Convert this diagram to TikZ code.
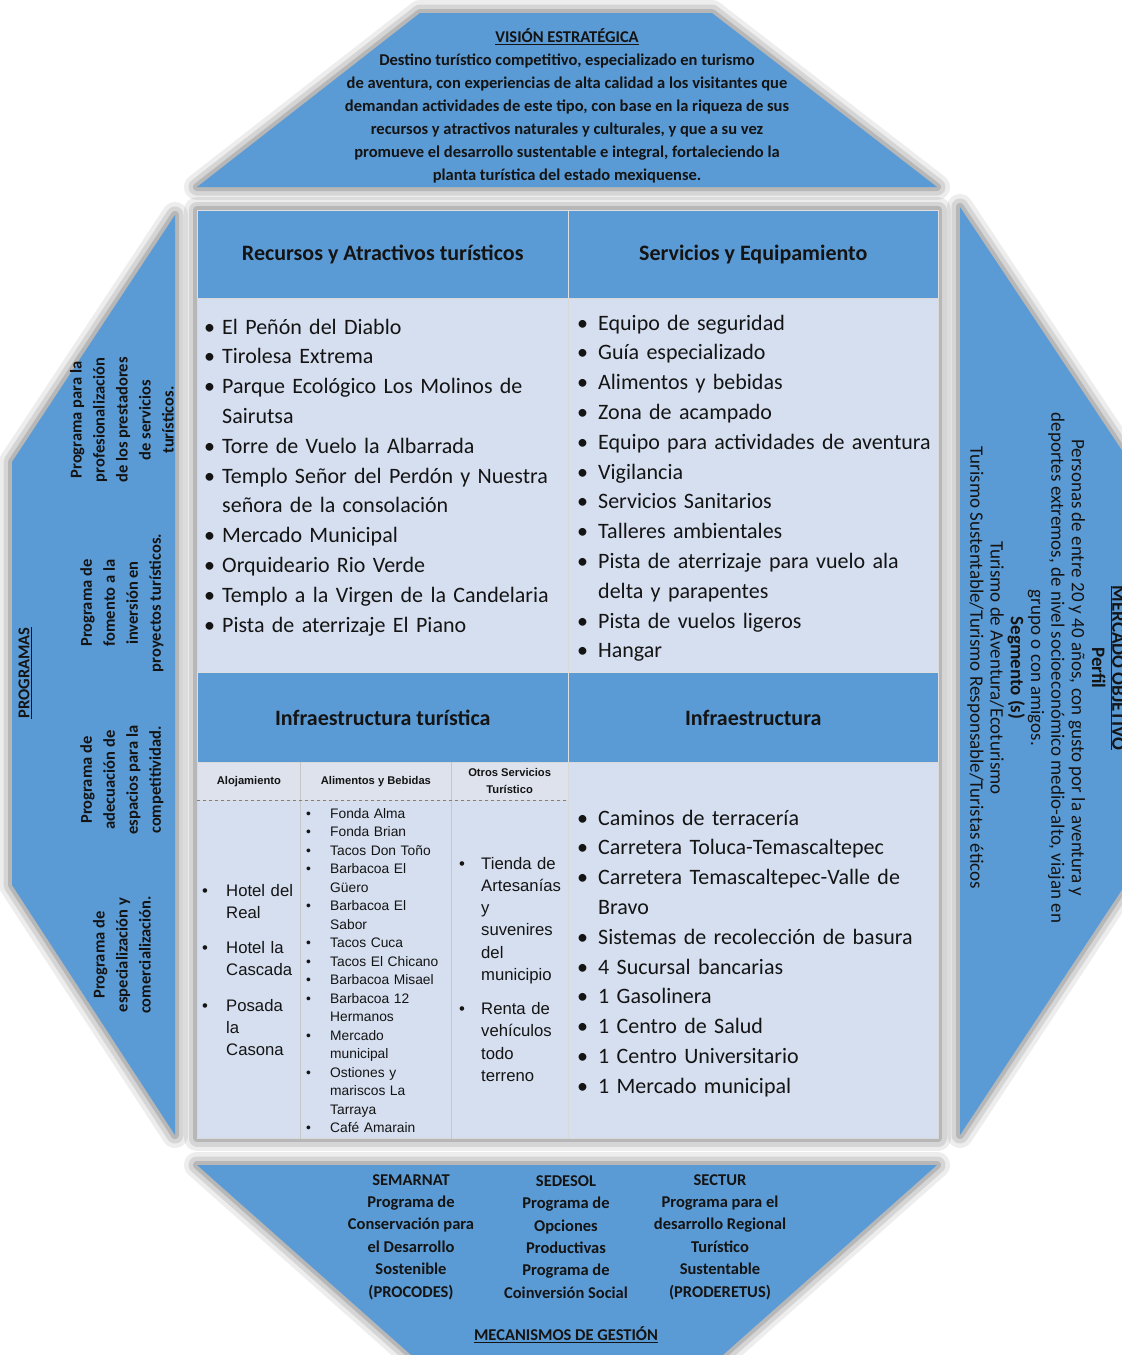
\documentclass[tikz,border=0pt]{standalone}
\usepackage{fontspec}
\setmainfont{Carlito}
\newfontfamily\arialfont{Liberation Sans}
\definecolor{azul}{RGB}{91,155,213}
\definecolor{celeste}{RGB}{214,223,239}
\definecolor{grisazul}{RGB}{221,226,236}
\definecolor{tinta}{RGB}{20,20,20}
\newcommand{\punto}[2][18pt]{\hangindent=#1\hangafter=1\makebox[#1][l]{\textbullet}#2\par}
\newcommand{\halo}[1]{\foreach \w/\o in {26/.07,17/.1,8/.14}{\draw[line width=\w pt, opacity=\o, line join=round] #1;}}
\begin{document}
\begin{tikzpicture}[x=1pt, y=-1pt, text=tinta,
  cabecera/.style={fill=azul, draw=white!75!gray, line width=1pt, anchor=north west, inner sep=0pt,
    minimum width=370.5pt, minimum height=88pt, font=\fontsize{22}{26}\selectfont\bfseries},
  celda/.style={fill=celeste, draw=white!70!gray, line width=1pt, anchor=north west, inner sep=0pt,
    minimum width=370.5pt},
  subcab/.style={fill=grisazul, draw=white!70!gray, line width=.8pt, anchor=north west, inner sep=0pt,
    minimum height=38pt, align=center, font=\arialfont\fontsize{11.2}{17}\selectfont\bfseries},
  lista/.style={anchor=base west, inner sep=0pt, align=left, font=\fontsize{22}{29.8}\selectfont},
  sublista/.style={anchor=base west, inner sep=0pt, align=left, font=\arialfont\fontsize{16.7}{22.3}\selectfont},
  franja/.style={align=center, inner sep=0pt, font=\fontsize{16.5}{23}\selectfont\bfseries}]

\useasboundingbox (0,0) rectangle (1122,1355);

% sombras y paneles del octagono
\halo{(197,187) -- (420,13) -- (712,13) -- (937,187) -- cycle}
\halo{(175,215) -- (12,462) -- (12,885) -- (175,1135) -- cycle}
\halo{(960,207) -- (1135,470) -- (1135,870) -- (960,1135) -- cycle}
\halo{(197,1165) -- (937,1165) -- (715,1362) -- (419,1362) -- cycle}
\halo{(197,210) rectangle (938,1138)}
\fill[azul] (197,187) -- (420,13) -- (712,13) -- (937,187) -- cycle;
\fill[azul] (175,215) -- (12,462) -- (12,885) -- (175,1135) -- cycle;
\fill[azul] (960,207) -- (1135,470) -- (1135,870) -- (960,1135) -- cycle;
\fill[azul] (197,1165) -- (937,1165) -- (715,1362) -- (419,1362) -- cycle;

% tabla central
\node[cabecera] (recursos) at (197,210) {Recursos y Atractivos turísticos};
\node[cabecera] (servicios) at (567.5,210) {Servicios y Equipamiento};
\node[celda, minimum height=374pt] (recursos-c) at (197,298) {};
\node[celda, minimum height=374pt] (servicios-c) at (567.5,298) {};
\node[cabecera, minimum height=90pt] (infratur) at (197,672) {Infraestructura turística};
\node[cabecera, minimum height=90pt] (infra) at (567.5,672) {Infraestructura};
\node[celda, minimum height=376pt] (infratur-c) at (197,762) {};
\node[celda, minimum height=376pt] (infra-c) at (567.5,762) {};

\node[subcab, minimum width=103pt] (aloj) at (197,762) {Alojamiento};
\node[subcab, minimum width=151pt] (alim) at (300,762) {Alimentos y Bebidas};
\node[subcab, minimum width=116.5pt] (otros) at (451,762) {Otros Servicios\\Turístico};
\draw[white!55!gray, line width=.8pt] (aloj.north east) -- (aloj.north east |- infratur-c.south);
\draw[white!55!gray, line width=.8pt] (alim.north east) -- (alim.north east |- infratur-c.south);
\draw[gray, dashed, line width=.8pt] (aloj.south west) -- (otros.south east);

\node[lista, text width=352pt] (recursos-l) at (204,334) {%
  \punto{El Peñón del Diablo}
  \punto{Tirolesa Extrema}
  \punto{Parque Ecológico Los Molinos de\newline Sairutsa}
  \punto{Torre de Vuelo la Albarrada}
  \punto{Templo Señor del Perdón y Nuestra\newline señora de la consolación}
  \punto{Mercado Municipal}
  \punto{Orquideario Rio Verde}
  \punto{Templo a la Virgen de la Candelaria}
  \punto{Pista de aterrizaje El Piano}};
\node[lista, text width=358pt] (servicios-l) at (577,330) {%
  \punto[21pt]{Equipo de seguridad}
  \punto[21pt]{Guía especializado}
  \punto[21pt]{Alimentos y bebidas}
  \punto[21pt]{Zona de acampado}
  \punto[21pt]{Equipo para actividades de aventura}
  \punto[21pt]{Vigilancia}
  \punto[21pt]{Servicios Sanitarios}
  \punto[21pt]{Talleres ambientales}
  \punto[21pt]{Pista de aterrizaje para vuelo ala\newline delta y parapentes}
  \punto[21pt]{Pista de vuelos ligeros}
  \punto[21pt]{Hangar}};
\node[lista, text width=358pt] (infra-l) at (577,825) {%
  \punto[21pt]{Caminos de terracería}
  \punto[21pt]{Carretera Toluca-Temascaltepec}
  \punto[21pt]{Carretera Temascaltepec-Valle de\newline Bravo}
  \punto[21pt]{Sistemas de recolección de basura}
  \punto[21pt]{4 Sucursal bancarias}
  \punto[21pt]{1 Gasolinera}
  \punto[21pt]{1 Centro de Salud}
  \punto[21pt]{1 Centro Universitario}
  \punto[21pt]{1 Mercado municipal}};

\node[sublista, text width=98pt] (aloj-l) at (202,896) {\setlength{\parskip}{13pt}%
  \punto[24pt]{Hotel del\newline Real}
  \punto[24pt]{Hotel la\newline Cascada}
  \punto[24pt]{Posada\newline la\newline Casona}};
\node[sublista, text width=145pt, font=\arialfont\fontsize{13.8}{18.5}\selectfont] (alim-l) at (306,818) {%
  \punto[24pt]{Fonda Alma}
  \punto[24pt]{Fonda Brian}
  \punto[24pt]{Tacos Don Toño}
  \punto[24pt]{Barbacoa El\newline Güero}
  \punto[24pt]{Barbacoa El\newline Sabor}
  \punto[24pt]{Tacos Cuca}
  \punto[24pt]{Tacos El Chicano}
  \punto[24pt]{Barbacoa Misael}
  \punto[24pt]{Barbacoa 12\newline Hermanos}
  \punto[24pt]{Mercado\newline municipal}
  \punto[24pt]{Ostiones y\newline mariscos La\newline Tarraya}
  \punto[24pt]{Café Amarain}};
\node[sublista, text width=108pt] (otros-l) at (459,869) {\setlength{\parskip}{11.6pt}%
  \punto[22pt]{Tienda de\newline Artesanías\newline y\newline suvenires\newline del\newline municipio}
  \punto[22pt]{Renta de\newline vehículos\newline todo\newline terreno}};

% textos de los paneles
\node[franja] (vision) at (567,106) {\underline{VISIÓN ESTRATÉGICA}\\
  Destino turístico competitivo, especializado en turismo\\
  de aventura, con experiencias de alta calidad a los visitantes que\\
  demandan actividades de este tipo, con base en la riqueza de sus\\
  recursos y atractivos naturales y culturales, y que a su vez\\
  promueve el desarrollo sustentable e integral, fortaleciendo la\\
  planta turística del estado mexiquense.};

\node[franja, rotate=90] (programas) at (25,673) {\underline{PROGRAMAS}};
\node[franja, rotate=90] (prog1) at (122,420) {Programa para la\\profesionalización\\de los prestadores\\de servicios\\turísticos.};
\node[franja, rotate=90] (prog2) at (122,603) {Programa de\\fomento a la\\inversión en\\proyectos turísticos.};
\node[franja, rotate=90] (prog3) at (122,780) {Programa de\\adecuación de\\espacios para la\\competitividad.};
\node[franja, rotate=90] (prog4) at (122,955) {Programa de\\especialización y\\comercialización.};

\node[franja, rotate=-90, font=\fontsize{19}{20.3}\selectfont] (mercado) at (1046,668) {%
  \textbf{\underline{MERCADO OBJETIVO}}\\
  \textbf{Perfil}\\
  Personas de entre 20 y 40 años, con gusto por la aventura y\\
  deportes extremos, de nivel socioeconómico medio-alto, viajan en\\
  grupo o con amigos.\\
  \textbf{Segmento (s)}\\
  Turismo de Aventura/Ecoturismo\\
  Turismo Sustentable/Turismo Responsable/Turistas éticos};

\node[franja, font=\fontsize{16.5}{22.4}\selectfont\bfseries] (semarnat) at (411,1237) {SEMARNAT\\Programa de\\Conservación para\\el Desarrollo\\Sostenible\\(PROCODES)};
\node[franja, font=\fontsize{16.5}{22.4}\selectfont\bfseries] (sedesol) at (566,1237) {SEDESOL\\Programa de\\Opciones\\Productivas\\Programa de\\Coinversión Social};
\node[franja, font=\fontsize{16.5}{22.4}\selectfont\bfseries] (sectur) at (720,1237) {SECTUR\\Programa para el\\desarrollo Regional\\Turístico\\Sustentable\\(PRODERETUS)};
\node[franja] (mecanismos) at (566,1335) {\underline{MECANISMOS DE GESTIÓN}};
\end{tikzpicture}
\end{document}
